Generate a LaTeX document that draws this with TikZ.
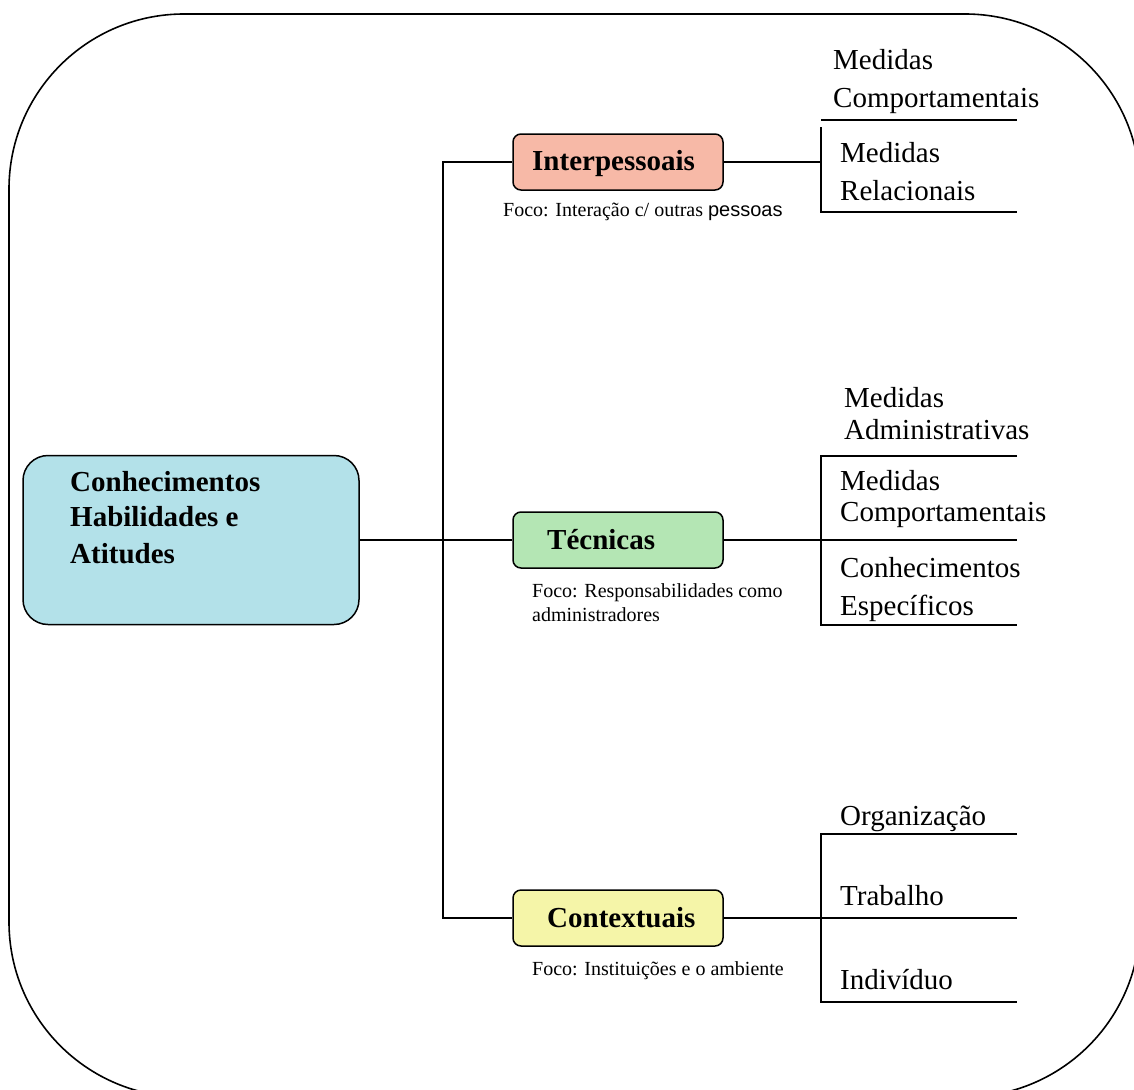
\documentclass[tikz,border=0pt]{standalone}
\usepackage{fontspec}
\setmainfont{Liberation Serif}
\newfontfamily\arialf{Liberation Sans}
\definecolor{mainc}{RGB}{179,225,233}
\definecolor{interc}{RGB}{247,185,167}
\definecolor{tecc}{RGB}{180,230,180}
\definecolor{ctxc}{RGB}{245,245,168}
\begin{document}
\begin{tikzpicture}[x=1pt,y=-1pt,
  conn/.style={line width=1.5pt},
  catbox/.style={draw, line width=1.5pt, rounded corners=8pt, minimum width=210pt, minimum height=56pt, inner sep=0pt},
  big/.style={font=\fontsize{29}{35}\selectfont, inner sep=0pt, anchor=base west},
  bigb/.style={font=\fontsize{29}{35}\selectfont\bfseries, inner sep=0pt, anchor=base west},
  small/.style={font=\fontsize{20}{24}\selectfont, inner sep=0pt, anchor=base west}]
\useasboundingbox (0,0) rectangle (1134,1089);
\clip (0,0) rectangle (1134,1089);
\draw[line width=1.6pt, rounded corners=175pt] (9,14) rectangle (1140,1097);

% main box
\node[draw, fill=mainc, line width=1.5pt, rounded corners=25pt, minimum width=336pt, minimum height=169pt, inner sep=0pt] (main) at (191,540) {};
\node[bigb] (m1) at (70,491) {Conhecimentos};
\node[bigb] (m2) at (70,526) {Habilidades e};
\node[bigb] (m3) at (70,563) {Atitudes};

% category boxes
\node[catbox, fill=interc] (inter) at (618,162) {};
\node[catbox, fill=tecc] (tec) at (618,540) {};
\node[catbox, fill=ctxc] (ctx) at (618,918) {};
\node[bigb] (interl) at (532,170) {Interpessoais};
\node[bigb] (tecl) at (547,549) {Técnicas};
\node[bigb] (ctxl) at (547,927) {Contextuais};

% focus labels
\node[small] (f1) at (503,216) {Foco: Interação c/ outras {\arialf pessoas}};
\node[small] (f2a) at (532,597) {Foco: Responsabilidades como};
\node[small] (f2b) at (532,621) {administradores};
\node[small] (f3) at (532,975) {Foco: Instituições e o ambiente};

% connectors
\coordinate (j) at (443,540);
\draw[conn] (main.east) -- (tec.west);
\draw[conn] (inter.west) -| (j) |- (ctx.west);
\coordinate (ji) at (821,162);
\coordinate (jt) at (821,540);
\coordinate (jc) at (821,918);
\draw[conn] (inter.east) -- (ji);
\draw[conn] (tec.east) -- (jt);
\draw[conn] (ctx.east) -- (jc);

% brackets (Interpessoais)
\draw[conn] (821,120) -- (1017,120);
\draw[conn] (821,127) -- (821,212) -- (1017,212);
% brackets (Tecnicas)
\draw[conn] (1017,456) -- (821,456) -- (821,625) -- (1017,625);
\draw[conn] (jt) -- (1017,540);
% brackets (Contextuais)
\draw[conn] (1017,834) -- (821,834) -- (821,1002) -- (1017,1002);
\draw[conn] (jc) -- (1017,918);

% right texts
\node[big] (r1a) at (833,70) {Medidas};
\node[big] (r1b) at (833,107) {Comportamentais};
\node[big] (r2a) at (840,162) {Medidas};
\node[big] (r2b) at (840,200) {Relacionais};
\node[big] (r3a) at (844,407) {Medidas};
\node[big] (r3b) at (844,439) {Administrativas};
\node[big] (r4a) at (840,490) {Medidas};
\node[big] (r4b) at (840,521) {Comportamentais};
\node[big] (r5a) at (840,577) {Conhecimentos};
\node[big] (r5b) at (840,615) {Específicos};
\node[big] (r6) at (840,825) {Organização};
\node[big] (r7) at (840,905) {Trabalho};
\node[big] (r8) at (840,989) {Indivíduo};
\end{tikzpicture}
\end{document}
